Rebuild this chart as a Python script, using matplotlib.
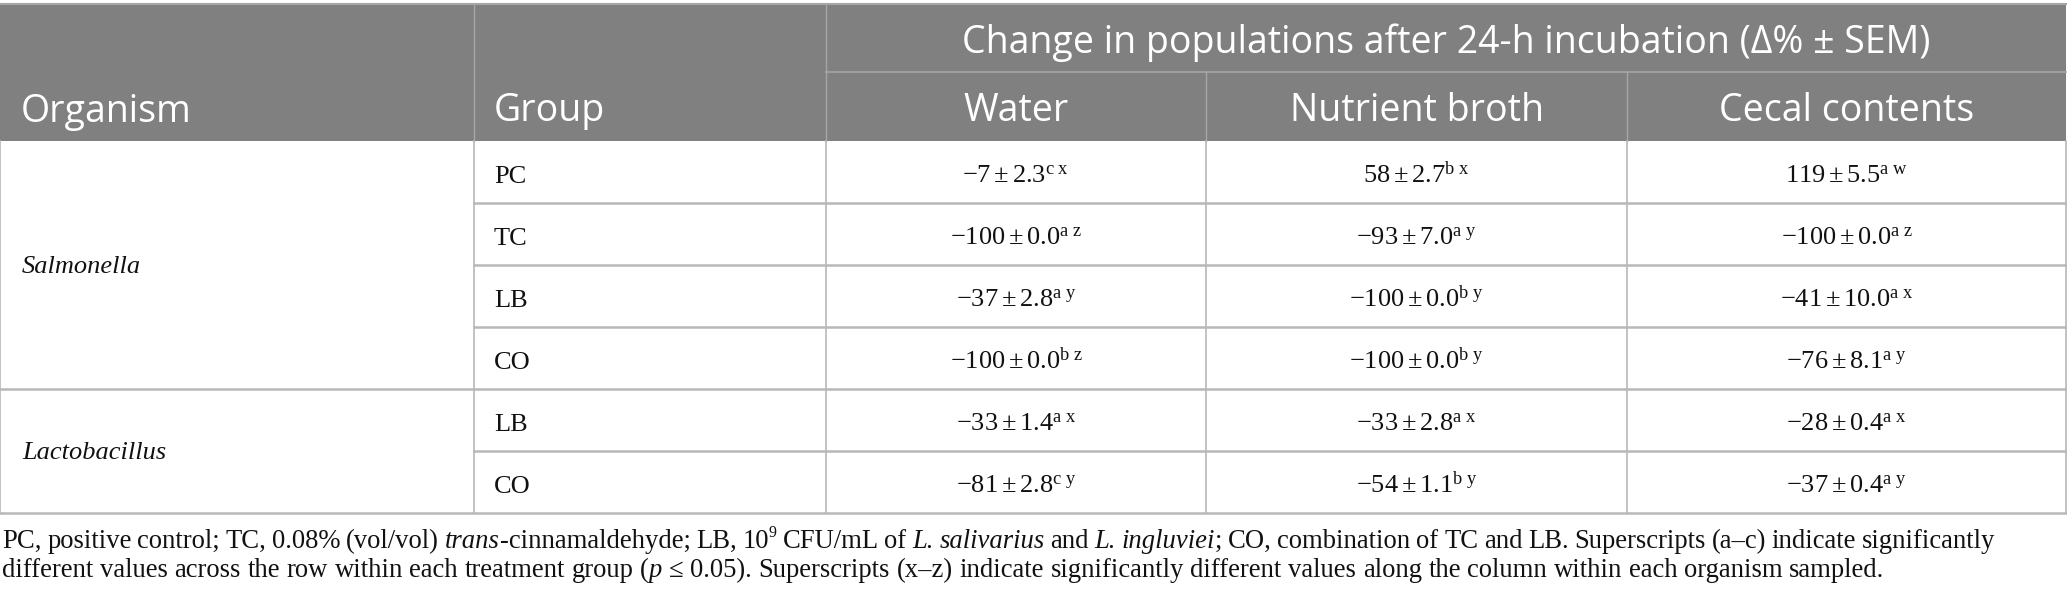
import re
import matplotlib
matplotlib.use('Agg')
import matplotlib.pyplot as plt

plt.rcParams['mathtext.fontset'] = 'custom'
plt.rcParams['mathtext.rm'] = 'Liberation Serif'
plt.rcParams['mathtext.it'] = 'Liberation Serif:italic'
plt.rcParams['mathtext.bf'] = 'Liberation Serif:bold'

# table content
organisms = ['Salmonella', 'Lactobacillus']
organism_rows = [4, 2]
groups = ['PC', 'TC', 'LB', 'CO', 'LB', 'CO']
media = ['Water', 'Nutrient broth', 'Cecal contents']
span_title = 'Change in populations after 24-h incubation (Δ% ± SEM)'

water_mean = [-7, -100, -37, -100, -33, -81]
water_sem = [2.3, 0.0, 2.8, 0.0, 1.4, 2.8]
water_sup = ['c x', 'a z', 'a y', 'b z', 'a x', 'c y']

broth_mean = [58, -93, -100, -100, -33, -54]
broth_sem = [2.7, 7.0, 0.0, 0.0, 2.8, 1.1]
broth_sup = ['b x', 'a y', 'b y', 'b y', 'a x', 'b y']

cecal_mean = [119, -100, -41, -76, -28, -37]
cecal_sem = [5.5, 0.0, 10.0, 8.1, 0.4, 0.4]
cecal_sup = ['a w', 'a z', 'a x', 'a y', 'a x', 'a y']

# footnote runs: (text, kind) with kind n = normal, i = italic, s = superscript
footnote_1 = [('PC, positive control; TC, 0.08% (vol/vol) ', 'n'), ('trans', 'i'),
              ('-cinnamaldehyde; LB, 10', 'n'), ('9', 's'), (' CFU/mL of ', 'n'),
              ('L. salivarius', 'i'), (' and ', 'n'), ('L. ingluviei', 'i'),
              ('; CO, combination of TC and LB. Superscripts (a–c) indicate significantly', 'n')]
footnote_2 = [('different values across the row within each treatment group (', 'n'), ('p', 'i'),
              (' ≤ 0.05). Superscripts (x–z) indicate significantly different values along the column '
               'within each organism sampled.', 'n')]

# layout in pixel units
W, H = 2067, 605
col_x = [0, 474, 826, 1206, 1627, 2066]
head_top, head_mid, head_bot = 4, 72, 141
row_h = 62
header_gray = '#808080'
grid_col = '#b8b8b8'
head_line = '#a6a6a6'
ink = '#111111'

fig = plt.figure(figsize=(W / 100, H / 100), dpi=100)
ax = fig.add_axes([0, 0, 1, 1])
ax.set_xlim(0, W)
ax.set_ylim(H, 0)
ax.axis('off')
renderer = fig.canvas.get_renderer()

# header block
ax.fill_between([col_x[0], col_x[-1]], head_top, head_bot, color=header_gray, lw=0)
ax.plot([col_x[0], col_x[-1]], [head_top, head_top], color=head_line, lw=1.5)
ax.plot([col_x[2], col_x[-1]], [head_mid, head_mid], color=head_line, lw=1.2)
ax.plot([col_x[1], col_x[1]], [head_top, head_bot], color=head_line, lw=1)
ax.plot([col_x[2], col_x[2]], [head_top, head_bot], color=head_line, lw=1)
for x in col_x[3:5]:
    ax.plot([x, x], [head_mid, head_bot], color=head_line, lw=1)

hfont = dict(family='Open Sans', size=27, color='white', va='baseline')
ax.text(col_x[0] + 21, 122, 'Organism', ha='left', **hfont)
ax.text(col_x[1] + 20, 121, 'Group', ha='left', **hfont)
ax.text((col_x[2] + col_x[-1]) / 2, 53, span_title, ha='center', **hfont)
for i, m in enumerate(media):
    ax.text((col_x[i + 2] + col_x[i + 3]) / 2, 121, m, ha='center', **hfont)

# body
n_rows = len(groups)
body_bot = head_bot + n_rows * row_h
row_tops = [head_bot + i * row_h for i in range(n_rows + 1)]


def cell(mean, sem, sup):
    sign = '-' if mean < 0 else ''
    return '$\\mathrm{%s%d \\pm %.1f}^{\\mathrm{%s}}$' % (sign, abs(mean), sem, sup.replace(' ', '\\ '))


bfont = dict(family='Liberation Serif', size=19, color=ink, va='baseline')
vals = [(water_mean, water_sem, water_sup), (broth_mean, broth_sem, broth_sup),
        (cecal_mean, cecal_sem, cecal_sup)]
for i in range(n_rows):
    yb = row_tops[i] + row_h / 2 + 11
    ax.text(col_x[1] + 20, yb, groups[i], ha='left', **bfont)
    for j, (mv, sv, sp) in enumerate(vals):
        ax.text((col_x[j + 2] + col_x[j + 3]) / 2, yb, cell(mv[i], sv[i], sp[i]),
                ha='center', va='baseline', size=19, color=ink)

# organism labels and grid lines
start = 0
for org, n in zip(organisms, organism_rows):
    y0, y1 = row_tops[start], row_tops[start + n]
    ax.text(col_x[0] + 22, (y0 + y1) / 2 + 8, org, ha='left', style='italic', **bfont)
    ax.plot([col_x[0], col_x[-1]], [y1, y1], color=grid_col, lw=1.8)
    for k in range(start + 1, start + n):
        ax.plot([col_x[1], col_x[-1]], [row_tops[k], row_tops[k]], color=grid_col, lw=1.8)
    start += n

for x in col_x:
    ax.plot([x, x], [head_bot, body_bot], color=grid_col, lw=1.2)


# footnote: word by word, so italics and superscripts sit inline and line 1 can be justified
def make_text(x, y, txt, kind, size):
    kw = dict(family='Liberation Serif', color=ink, ha='left', va='baseline')
    if kind == 's':
        return ax.text(x, y - size * 0.6, txt, size=size * 0.6, **kw)
    return ax.text(x, y, txt, size=size, style='italic' if kind == 'i' else 'normal', **kw)


def tokens(runs):
    out = []
    for txt, kind in runs:
        for tok in re.split('( )', txt):
            if tok:
                out.append((tok, kind))
    return out


def measure(txt, kind, size):
    t = make_text(0, 0, txt, kind, size)
    w = t.get_window_extent(renderer=renderer).width
    t.remove()
    return w


def natural_width(runs, size):
    space = measure('x x', 'n', size) - measure('xx', 'n', size)
    return sum(space if tok == ' ' else measure(tok, kind, size) for tok, kind in tokens(runs))


def draw_line(x, y, runs, size, right=None):
    toks = tokens(runs)
    space = measure('x x', 'n', size) - measure('xx', 'n', size)
    if right is not None:
        words = sum(measure(tok, kind, size) for tok, kind in toks if tok != ' ')
        space = (right - x - words) / sum(1 for tok, _ in toks if tok == ' ')
    for tok, kind in toks:
        if tok == ' ':
            x += space
            continue
        t = make_text(x, y, tok, kind, size)
        x += t.get_window_extent(renderer=renderer).width


foot_size = 18 * (1887 - 2) / natural_width(footnote_2, 18)
draw_line(2, 548, footnote_1, foot_size, right=1995)
draw_line(2, 577, footnote_2, foot_size)

fig.savefig('out.png', dpi=100)
